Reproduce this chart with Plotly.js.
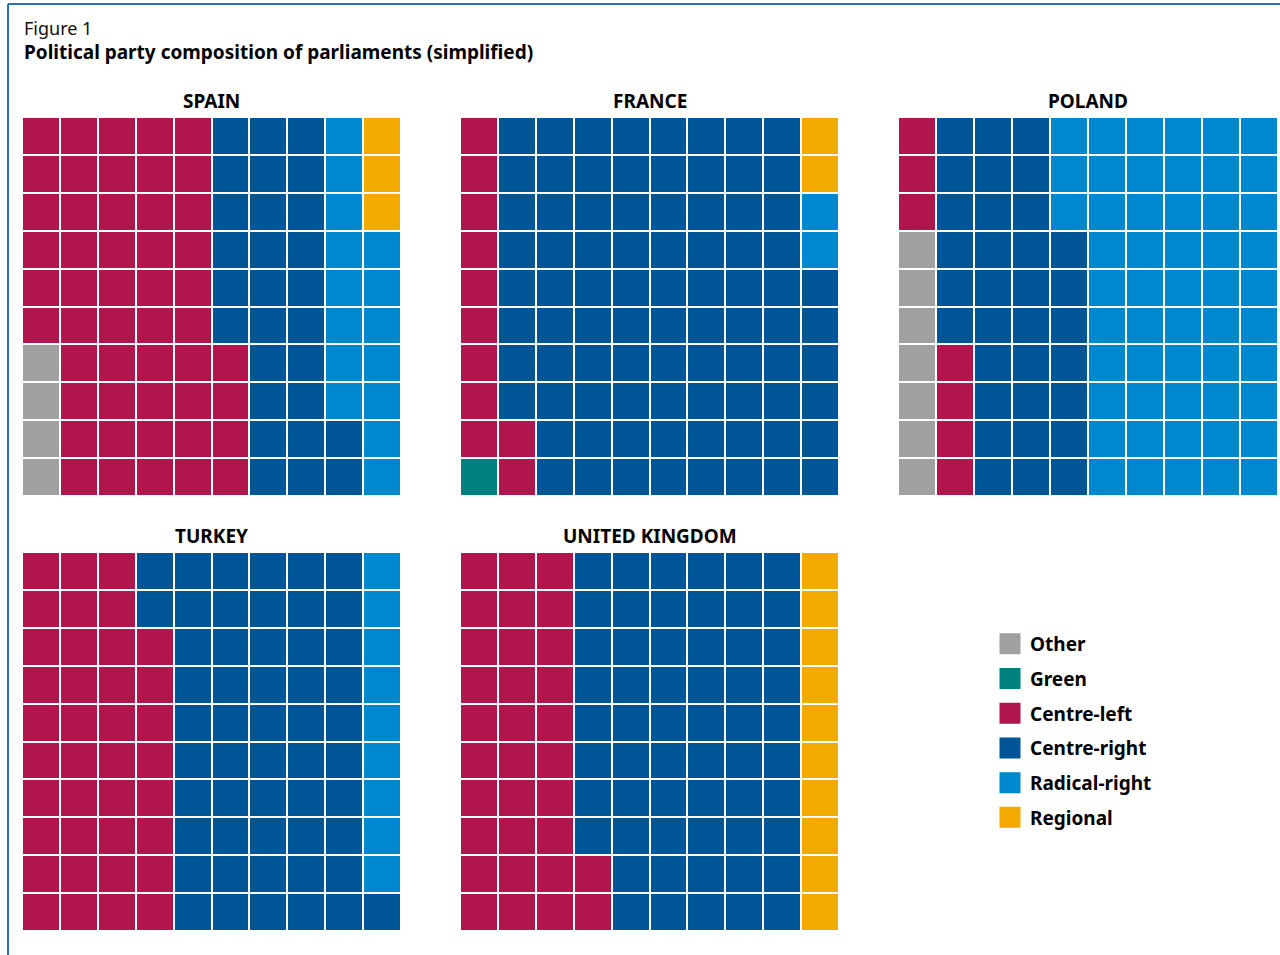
<!DOCTYPE html>
<html>
<head>
<meta charset="utf-8">
<script src="https://cdn.plot.ly/plotly-3.0.1.min.js"></script>
<style>html,body{margin:0;padding:0;background:#fff;}#chart{width:1280px;height:955px;}</style>
</head>
<body>
<div id="chart"></div>
<script>
// Party categories (fill order: bottom-up, column by column, left to right)
const categories = ["Other", "Green", "Centre-left", "Centre-right", "Radical-right", "Regional"];
const colors = ["#a0a0a0", "#00807e", "#b0154e", "#005597", "#0088cf", "#f2a900"];

const countries = ["SPAIN", "FRANCE", "POLAND", "TURKEY", "UNITED KINGDOM"];
// Seats per 100 (one square = 1%)
const spain  = [4, 0, 50, 28, 15, 3];
const france = [0, 1, 11, 84, 2, 2];
const poland = [7, 0, 7, 33, 53, 0];
const turkey = [0, 0, 38, 53, 9, 0];
const uk     = [0, 0, 32, 58, 0, 10];
const shares = [spain, france, poland, turkey, uk];

const figLabel = "Figure 1";
const figTitle = "Political party composition of parliaments (simplified)";

const FONT = "Noto Sans, Open Sans, sans-serif";

function buildGrid(counts) {
  const z = [];
  for (let r = 0; r < 10; r++) z.push(new Array(10).fill(null));
  let k = 0;
  counts.forEach((n, ci) => {
    for (let i = 0; i < n; i++) {
      const col = Math.floor(k / 10), row = k % 10;
      if (col < 10) z[row][col] = ci;
      k++;
    }
  });
  return z;
}

// discrete colorscale
const cs = [];
colors.forEach((c, i) => {
  cs.push([i / colors.length, c]);
  cs.push([(i + 1) / colors.length, c]);
});

const W = 1280, H = 955;
const xDoms = [[22 / W, 401 / W], [460 / W, 839 / W], [898 / W, 1278 / W]];
const yDoms = [[1 - 496 / H, 1 - 117 / H], [1 - 931 / H, 1 - 552 / H]];

const traces = [];
const layout = {
  width: W, height: H,
  margin: {l: 0, r: 0, t: 0, b: 0},
  paper_bgcolor: "#fff", plot_bgcolor: "#fff",
  font: {family: FONT, color: "#000"},
  showlegend: true,
  legend: {
    x: 990 / W, xanchor: "left", y: 1 - 625 / H, yanchor: "top",
    font: {family: FONT, size: 19, color: "#000", weight: "bold"},
    tracegroupgap: 7, bgcolor: "rgba(0,0,0,0)"
  },
  annotations: [
    {text: figLabel, xref: "paper", yref: "paper", x: 22 / W, y: 1 - 28 / H,
     xanchor: "left", yanchor: "middle", showarrow: false,
     font: {family: FONT, size: 18, color: "#111"}},
    {text: "<b>" + figTitle + "</b>", xref: "paper", yref: "paper", x: 22 / W, y: 1 - 52 / H,
     xanchor: "left", yanchor: "middle", showarrow: false,
     font: {family: FONT, size: 19, color: "#000"}}
  ],
  shapes: [
    {type: "line", xref: "paper", yref: "paper", x0: 8 / W, x1: 8 / W, y0: 0, y1: 1 - 4 / H,
     line: {color: "#2a72b2", width: 2}},
    {type: "line", xref: "paper", yref: "paper", x0: 8 / W, x1: 1, y0: 1 - 4 / H, y1: 1 - 4 / H,
     line: {color: "#2a72b2", width: 2}}
  ]
};

countries.forEach((name, i) => {
  const ax = i + 1;
  const xa = "x" + (ax === 1 ? "" : ax), ya = "y" + (ax === 1 ? "" : ax);
  const row = i < 3 ? 0 : 1, col = i < 3 ? i : i - 3;
  traces.push({
    type: "heatmap",
    z: buildGrid(shares[i]),
    x: [0,1,2,3,4,5,6,7,8,9], y: [0,1,2,3,4,5,6,7,8,9],
    zmin: 0, zmax: categories.length,
    colorscale: cs, showscale: false,
    xgap: 2, ygap: 2, hoverinfo: "skip",
    xaxis: xa, yaxis: ya, showlegend: false
  });
  const axCommon = {visible: false, range: [-0.5, 9.5], fixedrange: true, showgrid: false, zeroline: false};
  layout["xaxis" + (ax === 1 ? "" : ax)] = Object.assign({domain: xDoms[col], anchor: ya}, axCommon);
  layout["yaxis" + (ax === 1 ? "" : ax)] = Object.assign({domain: yDoms[row], anchor: xa}, axCommon);
  layout.annotations.push({
    text: "<b>" + name + "</b>", xref: "paper", yref: "paper",
    x: (xDoms[col][0] + xDoms[col][1]) / 2, y: yDoms[row][1] + 1 / H,
    xanchor: "center", yanchor: "bottom", showarrow: false,
    font: {family: FONT, size: 19, color: "#000"}
  });
});

// legend entries
categories.forEach((c, i) => {
  traces.push({
    type: "scatter", mode: "markers", x: [null], y: [null],
    name: c, legendgroup: c,
    marker: {symbol: "square", size: 16, color: colors[i], line: {color: colors[i], width: 5}},
    hoverinfo: "skip", showlegend: true
  });
});

Plotly.newPlot("chart", traces, layout, {displayModeBar: false, staticPlot: true});
</script>
</body>
</html>
